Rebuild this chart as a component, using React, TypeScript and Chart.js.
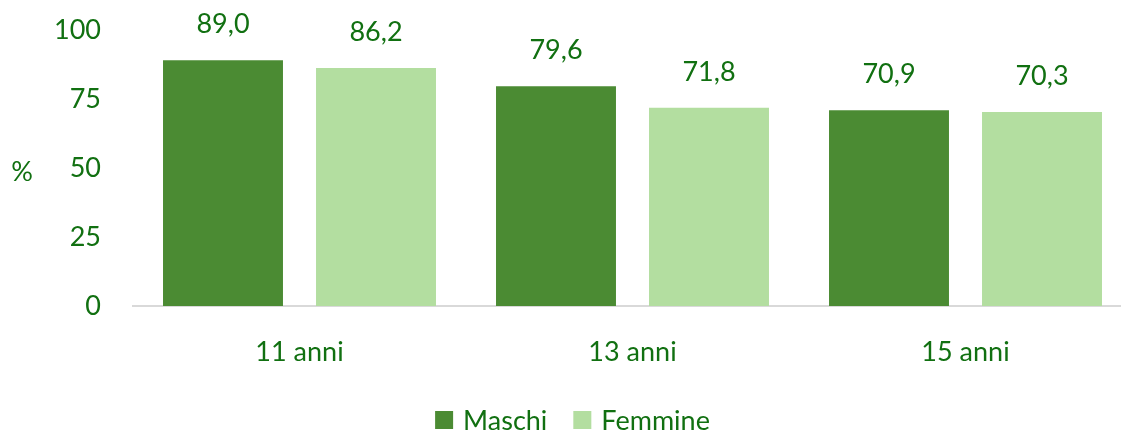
import React, { useEffect, useRef } from "react";
import { Chart, registerables } from "chart.js";
Chart.register(...registerables);

const categories = ["11 anni", "13 anni", "15 anni"];
const maschi = [89.0, 79.6, 70.9];
const femmine = [86.2, 71.8, 70.3];
const seriesNames = ["Maschi", "Femmine"];
const seriesColors = ["#4b8b33", "#b3dea0"];
const yTicks = [0, 25, 50, 75, 100];

const TEXT = "#117011";
const FONT = "Lato, 'Open Sans', sans-serif";
const FS = 27;
const EXTEND_RIGHT = 11;

const overlayPlugin = {
  id: "overlay",
  afterLayout(chart: any) {
    const x = chart.scales.x;
    x.right = x.right + EXTEND_RIGHT;
    x.width = x.right - x.left;
    x.configure();
    chart.chartArea.right = x.right;
    chart.chartArea.width = chart.chartArea.right - chart.chartArea.left;
  },
  afterDatasetsDraw(chart: any) {
    const ctx = chart.ctx;
    ctx.save();
    ctx.fillStyle = TEXT;
    ctx.font = `${FS}px ${FONT}`;
    ctx.textAlign = "center";
    ctx.textBaseline = "middle";
    chart.data.datasets.forEach((ds: any, i: number) => {
      const meta = chart.getDatasetMeta(i);
      meta.data.forEach((bar: any, j: number) => {
        const v = ds.data[j];
        ctx.fillText(v.toFixed(1).replace(".", ","), bar.x, bar.y - 36);
      });
    });
    // y unit label
    const yScale = chart.scales.y;
    ctx.fillText("%", 22, (yScale.top + yScale.bottom) / 2 + 4);
    // legend
    ctx.textAlign = "left";
    const box = 18, gapText = 10, gapItem = 26;
    const widths = seriesNames.map((n) => ctx.measureText(n).width);
    const total = widths.reduce((a, w) => a + box + gapText + w, 0) + gapItem * (seriesNames.length - 1);
    let x = chart.width / 2 + 12 - total / 2;
    const cy = 420;
    seriesNames.forEach((n, i) => {
      ctx.fillStyle = seriesColors[i];
      ctx.fillRect(x, cy - box / 2, box, box);
      ctx.fillStyle = TEXT;
      ctx.fillText(n, x + box + gapText, cy + 1);
      x += box + gapText + widths[i] + gapItem;
    });
    ctx.restore();
  },
};

export default function App() {
  const ref = useRef<HTMLCanvasElement>(null);
  useEffect(() => {
    const chart = new Chart(ref.current!, {
      type: "bar",
      data: {
        labels: categories,
        datasets: seriesNames.map((n, i) => ({
          label: n,
          data: i === 0 ? maschi : femmine,
          backgroundColor: seriesColors[i],
        })),
      },
      options: {
        animation: false,
        responsive: false,
        maintainAspectRatio: false,
        layout: { padding: { top: 30, right: 0, left: 0, bottom: 0 } },
        datasets: { bar: { categoryPercentage: 0.919, barPercentage: 0.784 } },
        scales: {
          x: {
            grid: { display: false, drawTicks: false },
            border: { display: true, color: "#d9d9d9", width: 2 },
            ticks: { color: TEXT, font: { size: FS, family: FONT }, padding: 30 },
            afterFit: (s: any) => { s.height = 130; s.paddingLeft = 0; s.paddingRight = 0; },
          },
          y: {
            min: 0,
            max: 100,
            afterBuildTicks: (s: any) => { s.ticks = yTicks.map((v) => ({ value: v })); },
            grid: { display: false, drawTicks: false },
            border: { display: false },
            ticks: { color: TEXT, font: { size: FS, family: FONT }, padding: 32 },
            afterFit: (s: any) => { s.width = 133; s.paddingTop = 0; s.paddingBottom = 0; },
          },
        },
        plugins: {
          legend: { display: false },
          tooltip: { enabled: false },
        },
      },
      plugins: [overlayPlugin],
    });
    return () => chart.destroy();
  }, []);
  return (
    <div style={{ position: "fixed", left: 0, top: 0, width: 1121, height: 436, background: "#fff" }}>
      <canvas ref={ref} width={1121} height={436} style={{ width: 1121, height: 436 }} />
    </div>
  );
}
